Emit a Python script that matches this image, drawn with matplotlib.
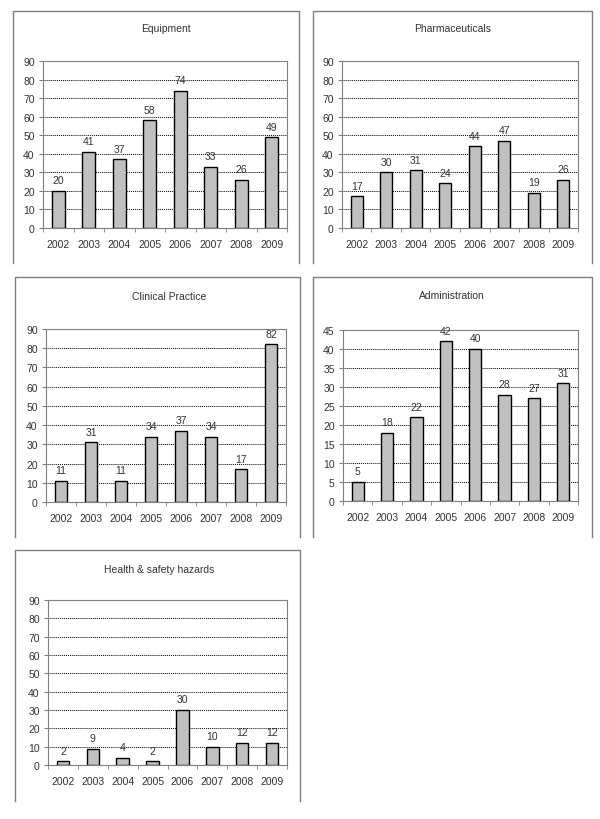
import numpy as np
import matplotlib.pyplot as plt
from matplotlib.lines import Line2D

plt.rcParams['font.family'] = ['Liberation Sans', 'DejaVu Sans']

years = ['2002', '2003', '2004', '2005', '2006', '2007', '2008', '2009']

equipment = [20, 41, 37, 58, 74, 33, 26, 49]
pharmaceuticals = [17, 30, 31, 24, 44, 47, 19, 26]
clinical = [11, 31, 11, 34, 37, 34, 17, 82]
administration = [5, 18, 22, 42, 40, 28, 27, 31]
health = [2, 9, 4, 2, 30, 10, 12, 12]

W, H = 600, 820
fig = plt.figure(figsize=(W / 100, H / 100), dpi=100)
FS = 7.5

def frame(x0, y0, x1, y1):
    # open-bottomed panel border, pixel coords from top-left
    xs = [x0 / W, x0 / W, x1 / W, x1 / W]
    ys = [1 - y1 / H, 1 - y0 / H, 1 - y0 / H, 1 - y1 / H]
    fig.add_artist(Line2D(xs, ys, color='#7f7f7f', lw=1.0))

def panel(title, values, box, ax_px, title_xy, ymax, step):
    frame(*box)
    l, t, r, b = ax_px
    ax = fig.add_axes([l / W, 1 - b / H, (r - l) / W, (b - t) / H])
    x = np.arange(len(values))
    ax.bar(x, values, width=0.42, color='#c0c0c0', edgecolor='black', lw=1.0, zorder=3)
    for xi, v in zip(x, values):
        ax.annotate(str(v), (xi, v), xytext=(0, 4), textcoords='offset points',
                    ha='center', va='bottom', fontsize=FS, color='#333333')
    ax.set_xlim(-0.5, len(values) - 0.5)
    ax.set_ylim(0, ymax)
    ax.set_yticks(np.arange(0, ymax + 1, step))
    ax.yaxis.grid(True, linestyle=(0, (1, 1)), color='black', lw=0.7)
    ax.set_axisbelow(True)
    ax.set_xticks(x)
    ax.set_xticklabels(years)
    ax.set_xticks(np.arange(-0.5, len(values), 1), minor=True)
    ax.tick_params(axis='x', which='major', length=0, pad=8, labelsize=FS, labelcolor='#333333')
    ax.tick_params(axis='x', which='minor', length=3, direction='out', color='#7f7f7f')
    ax.tick_params(axis='y', length=3, direction='out', color='#7f7f7f', labelsize=FS,
                   labelcolor='#333333', pad=3)
    for s in ax.spines.values():
        s.set_color('#7f7f7f')
        s.set_linewidth(0.8)
    fig.text(title_xy[0] / W, 1 - title_xy[1] / H, title, ha='center', va='center',
             fontsize=FS, color='#333333')

panel('Equipment', equipment, (13, 12, 299, 264), (43, 62, 287, 229), (166, 29), 90, 10)
panel('Pharmaceuticals', pharmaceuticals, (313, 12, 592, 264), (342, 62, 578, 229), (453, 29), 90, 10)
panel('Clinical Practice', clinical, (15, 278, 300, 538), (46, 330, 286, 503), (169, 297), 90, 10)
panel('Administration', administration, (313, 278, 592, 538), (343, 331, 578, 502), (452, 296), 45, 5)
panel('Health & safety hazards', health, (15, 551, 300, 802), (48, 601, 287, 766), (159, 570), 90, 10)

fig.savefig('out.png', dpi=100, facecolor='white')
